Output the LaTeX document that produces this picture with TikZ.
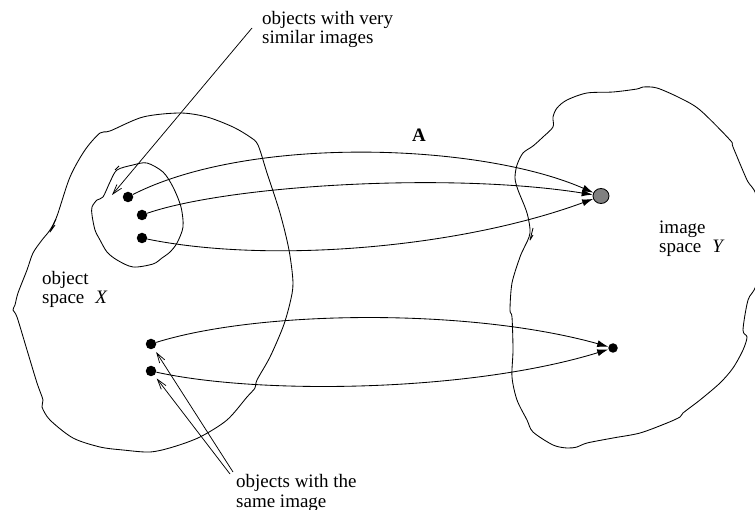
\documentclass[tikz,border=0pt]{standalone}
\usepackage{fontspec}
\setmainfont{Liberation Serif}
\usetikzlibrary{arrows.meta,shapes.geometric}
\tikzset{
  blob/.style={line width=0.85pt, line join=round},
  lbl/.style={inner sep=0pt, anchor=base west, font=\fontsize{19}{19}\selectfont},
  dot/.style={circle, fill=black, inner sep=0pt, minimum size=10.5pt},
  maparrow/.style={line width=0.85pt, -{Latex[length=11pt,width=7pt]}},
  pointer/.style={line width=0.75pt, -{Straight Barb[length=10pt,width=6pt]}},
}
\begin{document}
\begin{tikzpicture}[x=1pt,y=-1pt]
\clip (0,0) rectangle (755,510);
% object space X
\draw[blob] plot[smooth cycle, tension=0.5] coordinates {
 (100,133) (110,131) (143,117) (180,113) (207,117) (233,127) (250,137) (258,145)
 (267,173) (280,213) (289,250) (293,283) (290,303) (283,327) (270,357) (257,380)
 (255,388) (247,397) (227,420) (200,437) (173,447) (150,452) (123,450) (100,447)
 (73,438) (50,420) (42,407) (43,400) (37,383) (27,350) (17,317) (13,310) (15,305)
 (18,293) (27,270) (33,253) (42,240) (50,230) (57,216) (70,177) (85,150)};
\draw[blob] (56,219) -- (50,232) -- (55,225);
% inner region
\draw[blob] plot[smooth cycle, tension=0.5] coordinates {
 (117,170) (133,165) (147,163) (163,172) (173,187) (181,207) (183,227) (177,243)
 (170,252) (162,258) (153,264) (133,267) (117,260) (107,252) (100,240) (95,230)
 (92,215) (92,207) (97,200) (103,197) (110,182)};
\draw[blob] (115,170) -- (119,166);
% image space Y
\draw[blob] plot[smooth cycle, tension=0.5] coordinates {
 (553,117) (557,108) (567,100) (587,93) (613,92) (637,89) (643,87) (657,88)
 (680,98) (700,110) (730,140) (733,147) (747,180) (756,195) (763,240) (756,285)
 (748,300) (743,330) (747,337) (743,350) (733,368) (720,383) (700,400) (683,413)
 (680,417) (667,423) (640,433) (613,438) (587,443) (577,447) (567,448) (553,445)
 (533,432) (527,420) (517,400) (512,377) (513,350) (512,317) (510,310) (512,283)
 (520,257) (524,248) (530,233) (527,213) (518,190) (515,178) (517,165) (523,153)
 (533,146) (543,137) (553,127)};
\draw[blob] (533,228) -- (530,240) -- (533,235);
% dots
\node[dot] (d1) at (128,197) {};
\node[dot] (d2) at (142,215) {};
\node[dot] (d3) at (142,238) {};
\node[dot] (d4) at (151,344) {};
\node[dot] (d5) at (151,371) {};
\node[dot, minimum size=9.5pt] (d6) at (613,348) {};
\node[ellipse, draw, line width=0.85pt, fill=black!50, inner sep=0pt,
      minimum width=16pt, minimum height=15pt] (g) at (601,196) {};
% mapping arrows
\draw[maparrow] (d1) .. controls (250,135) and (480,143) .. (g);
\draw[maparrow] (d2) .. controls (230,185) and (450,172) .. (g);
\draw[maparrow] (d3) .. controls (270,264) and (460,248) .. (g);
\draw[maparrow] (d4) .. controls (260,310) and (470,308) .. (d6);
\draw[maparrow] (d5) .. controls (260,395) and (470,392) .. (d6);
% labels
\node[lbl, font=\fontsize{19}{19}\selectfont\bfseries] (A) at (412,142) {A};
\node[lbl] (t1) at (262,25) {objects with very};
\node[lbl] (t2) at (262,44) {similar images};
\node[lbl] (o1) at (42,285) {object};
\node[lbl] (o2) at (42,304) {space\hspace{11pt}\textit{X}};
\node[lbl] (i1) at (659,234) {image};
\node[lbl] (i2) at (659,253) {space\hspace{11pt}\textit{Y}};
\node[lbl] (s1) at (236,487) {objects with the};
\node[lbl] (s2) at (236,507) {same image};
% pointers
\coordinate (c1) at (252,28);
\coordinate (p1) at (112,195);
\coordinate (c2) at (233,472);
\coordinate (c3) at (230,474);
\draw[pointer] (c1) -- (p1);
\draw[pointer, shorten >=4pt] (c2) -- (d4);
\draw[pointer, shorten >=4pt] (c3) -- (d5);
\end{tikzpicture}
\end{document}
